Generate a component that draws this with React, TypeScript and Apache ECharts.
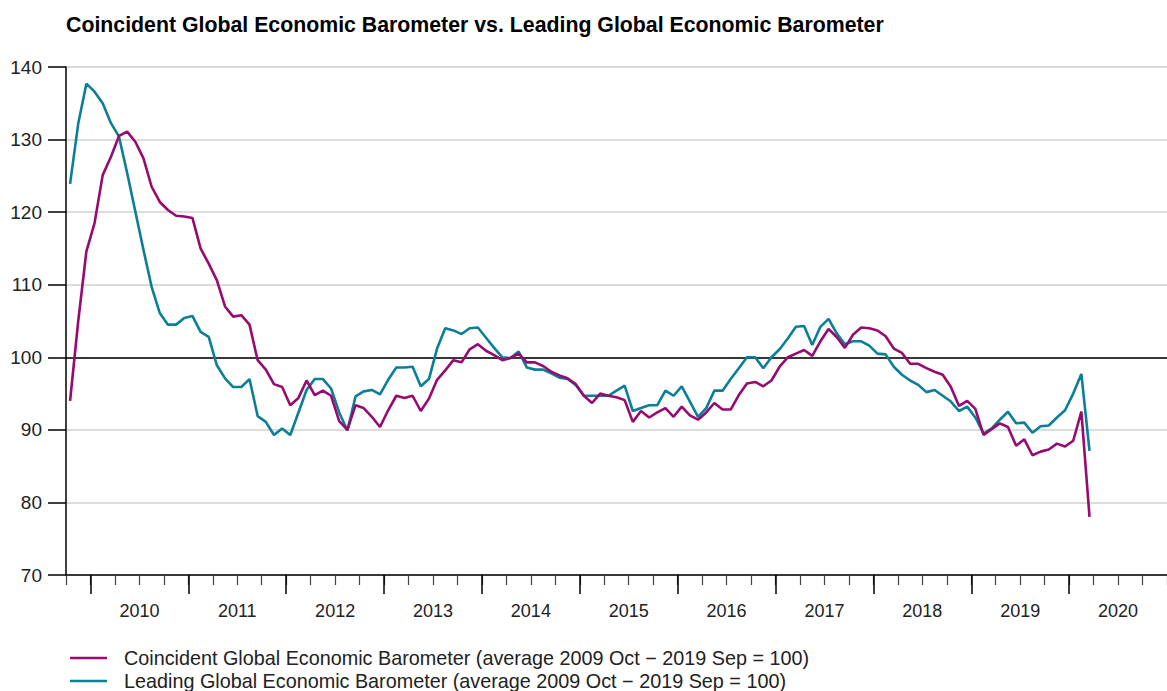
import React, { useEffect, useRef } from "react";
import * as echarts from "echarts";

// Monthly observations, October 2009 to March 2020
const START_YEAR = 2009;
const START_MONTH = 10; // October

const coincident: number[] = [
  94.0, 105.0, 114.6, 118.5, 125.1, 127.6, 130.5, 131.1, 129.7, 127.4, 123.5, 121.4,
  120.3, 119.5, 119.4, 119.2, 115.0, 112.9, 110.6, 107.0, 105.6, 105.8, 104.5, 99.6,
  98.3, 96.3, 95.9, 93.4, 94.4, 96.8, 94.8, 95.4, 94.7, 91.2, 90.0, 93.4,
  93.0, 91.8, 90.4, 92.7, 94.7, 94.4, 94.7, 92.6, 94.3, 96.9, 98.2, 99.6,
  99.3, 101.1, 101.8, 100.9, 100.3, 99.6, 99.9, 100.5, 99.3, 99.3, 98.8, 98.0,
  97.5, 97.1, 96.3, 94.7, 93.7, 95.0, 94.7, 94.5, 94.1, 91.1, 92.6, 91.7,
  92.4, 93.0, 91.8, 93.2, 92.0, 91.4, 92.4, 93.7, 92.8, 92.8, 94.8, 96.4,
  96.6, 96.0, 96.8, 98.7, 100.0, 100.5, 101.0, 100.2, 102.2, 103.9, 102.8, 101.3,
  103.1, 104.1, 104.0, 103.7, 102.9, 101.2, 100.6, 99.1, 99.1, 98.5, 98.0, 97.6,
  95.9, 93.3, 94.0, 92.9, 89.3, 90.1, 90.9, 90.4, 87.8, 88.7, 86.5, 87.0,
  87.3, 88.1, 87.7, 88.5, 92.5, 78.0,
];

const leading: number[] = [
  123.9, 132.2, 137.7, 136.6, 135.0, 132.3, 130.4, 125.4, 120.1, 114.8, 109.7, 106.1,
  104.5, 104.5, 105.4, 105.7, 103.5, 102.8, 98.9, 97.1, 95.9, 95.9, 97.0, 91.9,
  91.1, 89.3, 90.2, 89.3, 92.4, 95.5, 97.0, 97.0, 95.7, 92.4, 89.9, 94.6,
  95.3, 95.5, 94.9, 96.9, 98.6, 98.6, 98.7, 96.0, 97.0, 101.2, 104.0, 103.7,
  103.2, 104.0, 104.1, 102.7, 101.3, 100.0, 99.9, 100.8, 98.6, 98.3, 98.3, 97.8,
  97.2, 97.0, 96.2, 94.7, 94.7, 94.7, 94.7, 95.4, 96.1, 92.6, 93.0, 93.4,
  93.4, 95.4, 94.7, 96.0, 93.9, 91.8, 93.0, 95.4, 95.4, 97.0, 98.5, 100.0,
  100.0, 98.5, 100.0, 101.1, 102.6, 104.2, 104.3, 101.7, 104.2, 105.3, 103.3, 101.8,
  102.2, 102.2, 101.6, 100.5, 100.4, 98.7, 97.6, 96.8, 96.2, 95.2, 95.5, 94.7,
  93.9, 92.6, 93.2, 91.7, 89.5, 90.2, 91.4, 92.5, 90.9, 91.0, 89.6, 90.5,
  90.6, 91.7, 92.7, 95.0, 97.7, 87.1,
];

const yearLabels: number[] = [2010, 2011, 2012, 2013, 2014, 2015, 2016, 2017, 2018, 2019, 2020];
const yTicks: number[] = [70, 80, 90, 100, 110, 120, 130, 140];

const SERIES_NAMES = [
  "Coincident Global Economic Barometer (average 2009 Oct \u2212 2019 Sep = 100)",
  "Leading Global Economic Barometer (average 2009 Oct \u2212 2019 Sep = 100)",
];
const TITLE = "Coincident Global Economic Barometer vs. Leading Global Economic Barometer";

const PURPLE = "#970A6F";
const TEAL = "#0A7F97";
const FONT = 'Arial, "Liberation Sans", Helvetica, sans-serif';

// month index -> decimal year at middle of the month
const monthPos = (i: number) => START_YEAR + (START_MONTH - 1) / 12 + (i + 0.5) / 12;

const X_MIN = START_YEAR + (START_MONTH - 1) / 12;
const X_MAX = yearLabels[yearLabels.length - 1] + 1;

export default function App() {
  const ref = useRef<HTMLDivElement>(null);

  useEffect(() => {
    document.body.style.margin = "0";
    if (!ref.current) return;
    const chart = echarts.init(ref.current, undefined, { renderer: "svg" });

    const quarterTicks: number[] = [];
    for (let q = X_MIN; q <= X_MAX + 1e-9; q += 0.25) quarterTicks.push(Math.round(q * 100) / 100);
    const labelPos = yearLabels.map((y) => y + 0.5);

    const legendBase = {
      orient: "horizontal" as const,
      left: 70,
      padding: 0,
      icon: "rect",
      itemWidth: 37,
      itemHeight: 2.5,
      itemGap: 0,
      textStyle: {
        fontFamily: FONT,
        fontSize: 19.8,
        color: "#222",
        padding: [0, 0, 0, 12],
      },
    };

    const option: echarts.EChartsOption = {
      animation: false,
      backgroundColor: "#ffffff",
      textStyle: { fontFamily: FONT },
      title: {
        text: TITLE,
        left: 61,
        top: 9,
        textStyle: { fontFamily: FONT, fontSize: 21.3, fontWeight: "bold", color: "#000" },
      },
      grid: { left: 66, right: 0, top: 67, bottom: 116, containLabel: false },
      legend: [
        { ...legendBase, top: 648, data: [SERIES_NAMES[0]] },
        { ...legendBase, top: 671, data: [SERIES_NAMES[1]] },
      ],
      xAxis: [
        {
          type: "value",
          min: X_MIN,
          max: X_MAX,
          position: "bottom",
          axisLine: { show: true, onZero: false, lineStyle: { color: "#000", width: 1.5 } },
          axisTick: {
            show: true,
            customValues: quarterTicks,
            length: 10,
            lineStyle: { color: "#444", width: 1.2 },
          },
          axisLabel: { show: false },
          splitLine: { show: false },
        },
        {
          type: "value",
          min: X_MIN,
          max: X_MAX,
          position: "bottom",
          axisLine: { show: false, onZero: false },
          axisTick: {
            show: true,
            customValues: yearLabels,
            length: 19,
            lineStyle: { color: "#000", width: 1.5 },
          },
          axisLabel: {
            show: true,
            customValues: labelPos,
            formatter: (v: number) => String(Math.floor(v)),
            fontFamily: FONT,
            fontSize: 18,
            color: "#222",
            margin: 27,
          },
          splitLine: { show: false },
        },
      ],
      yAxis: {
        type: "value",
        min: yTicks[0],
        max: yTicks[yTicks.length - 1],
        interval: 10,
        axisLine: { show: true, lineStyle: { color: "#000", width: 1.5 } },
        axisTick: { show: true, length: 18, lineStyle: { color: "#000", width: 1.5 } },
        axisLabel: { fontFamily: FONT, fontSize: 19, color: "#222", margin: 24 },
        splitLine: { show: true, lineStyle: { color: "#d0d0d0", width: 1.5 } },
      },
      series: [
        {
          name: SERIES_NAMES[0],
          type: "line",
          xAxisIndex: 0,
          data: coincident.map((v, i) => [monthPos(i), v]),
          showSymbol: false,
          symbol: "none",
          lineStyle: { color: PURPLE, width: 2.6 },
          itemStyle: { color: PURPLE },
          z: 3,
          markLine: {
            silent: true,
            symbol: ["none", "none"],
            label: { show: false },
            lineStyle: { color: "#000", width: 1.5, type: "solid" },
            data: [{ yAxis: 100 }],
            z: 1,
          },
        },
        {
          name: SERIES_NAMES[1],
          type: "line",
          xAxisIndex: 0,
          data: leading.map((v, i) => [monthPos(i), v]),
          showSymbol: false,
          symbol: "none",
          lineStyle: { color: TEAL, width: 2.6 },
          itemStyle: { color: TEAL },
          z: 2,
        },
      ],
    };

    chart.setOption(option);
    return () => chart.dispose();
  }, []);

  return (
    <div
      ref={ref}
      style={{ position: "fixed", left: 0, top: 0, width: 1167, height: 691 }}
    />
  );
}
